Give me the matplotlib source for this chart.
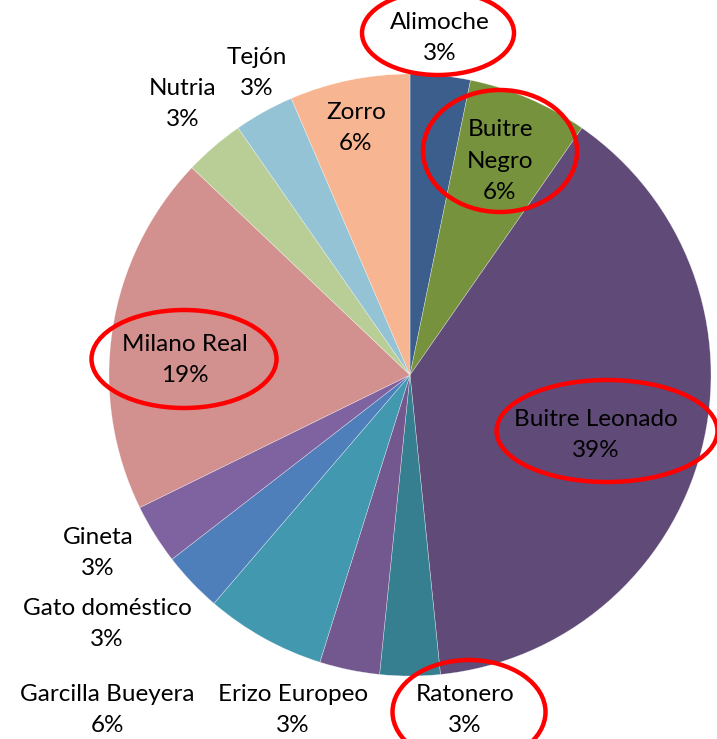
import matplotlib.pyplot as plt
from matplotlib.patches import Ellipse

# species counts (percent labels shown as rounded share)
species = ['Alimoche', 'Buitre Negro', 'Buitre Leonado', 'Ratonero', 'Erizo Europeo',
           'Garcilla Bueyera', 'Gato doméstico', 'Gineta', 'Milano Real', 'Nutria',
           'Tejón', 'Zorro']
counts = [1, 2, 12, 1, 1, 2, 1, 1, 6, 1, 1, 2]
colors = ['#3B5E8C', '#76923C', '#5F4A78', '#367F91', '#72588F', '#4299AF',
          '#4E7FBA', '#7F63A0', '#D2908E', '#B9CE97', '#93C3D5', '#F7B591']
label_text = ['Alimoche\n3%', 'Buitre\nNegro\n6%', 'Buitre Leonado\n39%', 'Ratonero\n3%',
              'Erizo Europeo\n3%', 'Garcilla Bueyera\n6%', 'Gato doméstico\n3%',
              'Gineta\n3%', 'Milano Real\n19%', 'Nutria\n3%', 'Tejón\n3%', 'Zorro\n6%']
# label centres in pixel coords (x, y from top)
label_pos = [(440, 38), (500, 161), (596, 435), (465, 710), (293, 710), (107, 710),
             (107, 624), (98, 553), (185, 360), (183, 104), (257, 73), (356, 128)]
# highlighted species: centre, width, height
circled = {'Alimoche': (438, 33, 152, 84), 'Buitre Negro': (500, 151, 154, 122),
           'Milano Real': (184, 359, 185, 98), 'Buitre Leonado': (607, 431, 221, 102),
           'Ratonero': (469, 712, 153, 104)}

W, H = 717, 739
fig = plt.figure(figsize=(W / 100, H / 100), dpi=100)
ax = fig.add_axes([0, 0, 1, 1])

ax.pie(counts, colors=colors, startangle=90, counterclock=False,
       center=(410, H - 375), radius=301, frame=True,
       wedgeprops=dict(edgecolor='#FFFFFF80', linewidth=0.4))
ax.set_xlim(0, W)
ax.set_ylim(0, H)
ax.axis('off')

for txt, (x, y) in zip(label_text, label_pos):
    ax.text(x, H - y, txt, ha='center', va='center', fontsize=17.5,
            family='Lato', linespacing=1.6, color='black')

for name, (x, y, w, h) in circled.items():
    ax.add_patch(Ellipse((x, H - y), w, h, fill=False, edgecolor='#FF0000',
                         linewidth=3.2, clip_on=False))

fig.savefig('out.png', dpi=100)
